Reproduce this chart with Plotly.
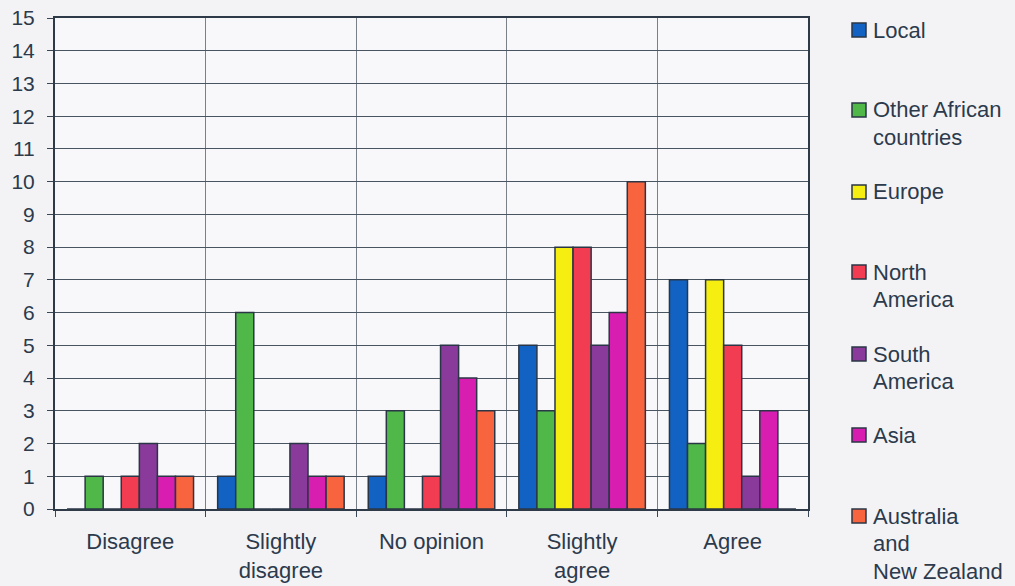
import plotly.graph_objects as go

categories = ["Disagree", "Slightly<br>disagree", "No opinion", "Slightly<br>agree", "Agree"]
series_names = ["Local", "Other African countries", "Europe", "North America",
                "South America", "Asia", "Australia and New Zealand"]
legend_lines = [["Local"], ["Other African", "countries"], ["Europe"], ["North", "America"],
                ["South", "America"], ["Asia"], ["Australia", "and", "New Zealand"]]
local = [0, 1, 1, 5, 7]
other_african = [1, 6, 3, 3, 2]
europe = [0, 0, 0, 8, 7]
north_america = [1, 0, 1, 8, 5]
south_america = [2, 2, 5, 5, 1]
asia = [1, 1, 4, 6, 3]
australia_nz = [1, 1, 3, 10, 0]
y_ticks = list(range(0, 16))

values = [local, other_african, europe, north_america, south_america, asia, australia_nz]
colors = ["#1262c4", "#4fb848", "#f6ee10", "#f23c52", "#8a3a9a", "#d81eb0", "#f8643e"]

W, H = 1015, 586
L, R, T, B = 55, 808, 18, 509
FONT = "Liberation Sans, Arial, sans-serif"
TXT = "#2c3a4c"

fig = go.Figure()
for name, vals, col in zip(series_names, values, colors):
    fig.add_trace(go.Bar(
        x=categories, y=vals, name=name,
        marker=dict(color=col, line=dict(color="#2a3646", width=1.5)),
        showlegend=False,
    ))

def px_x(p):
    return (p - L) / (R - L)

def px_y(p):
    return (B - p) / (B - T)

shapes = []
annotations = []
legend_tops = [30, 110, 192, 272, 354, 435, 516]
line_h = 27.5
for lines, col, ytop in zip(legend_lines, colors, legend_tops):
    shapes.append(dict(type="rect", xref="paper", yref="paper",
                       x0=px_x(852), x1=px_x(866), y0=px_y(ytop + 7), y1=px_y(ytop - 7),
                       fillcolor=col, line=dict(color="#2a3646", width=1.5)))
    for i, ln in enumerate(lines):
        annotations.append(dict(text=ln, xref="paper", yref="paper",
                                x=px_x(871), y=px_y(ytop + i * line_h),
                                xanchor="left", yanchor="middle", showarrow=False,
                                font=dict(family=FONT, size=22, color=TXT)))

fig.update_layout(
    width=W, height=H,
    margin=dict(l=L, r=W - R, t=T, b=H - B, autoexpand=False),
    paper_bgcolor="#f3f3f6",
    plot_bgcolor="#f8f8fa",
    barmode="group",
    bargap=0.16,
    bargroupgap=0,
    font=dict(family=FONT, size=22, color=TXT),
    shapes=shapes,
    annotations=annotations,
    showlegend=False,
)
fig.update_xaxes(
    type="category", tickson="boundaries", showgrid=True, gridcolor="#7a8088", gridwidth=1,
    ticks="outside", ticklen=6, tickcolor="#3a4656",
    showline=True, linecolor="#2e3a48", linewidth=2, mirror=True,
    tickfont=dict(family=FONT, size=22, color=TXT), ticklabelstandoff=12,
)
fig.update_yaxes(
    range=[0, 15], tickvals=y_ticks, ticktext=[str(v) for v in y_ticks],
    showgrid=True, gridcolor="#4a5562", gridwidth=1,
    ticks="outside", ticklen=6, tickcolor="#3a4656",
    showline=True, linecolor="#2e3a48", linewidth=2, mirror=True,
    zeroline=False, ticklabelstandoff=8,
    tickfont=dict(family=FONT, size=21, color=TXT),
)
fig.write_html("out.html")
